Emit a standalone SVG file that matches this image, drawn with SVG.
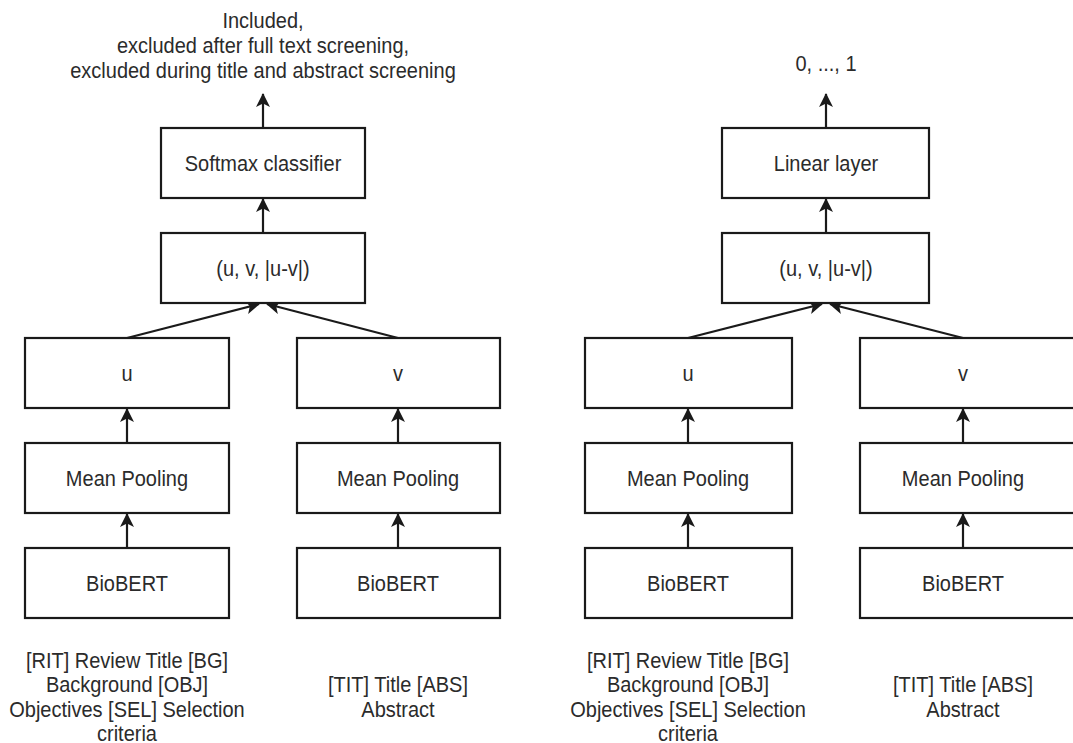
<svg xmlns="http://www.w3.org/2000/svg" width="1073" height="743" viewBox="0 0 1073 743">
  <style>
    .box { fill: #ffffff; stroke: #1a1a1a; stroke-width: 2.2; }
    .lbl { font-family: "Liberation Sans", Arial, sans-serif; font-size: 20px; fill: #2b2b2b; text-anchor: middle; dominant-baseline: central; transform-box: fill-box; transform-origin: center; transform: scaleY(1.12); }
    .edge { stroke: #1a1a1a; stroke-width: 2.2; fill: none; marker-end: url(#arrow); }
  </style>
  <defs>
    <marker id="arrow" markerUnits="userSpaceOnUse" viewBox="0 0 14 14" markerWidth="14" markerHeight="14" refX="13" refY="7" orient="auto">
      <path d="M0,0 L14,7 L0,14 L3.5,7 z" fill="#1a1a1a"/>
    </marker>
  </defs>
  <rect width="1073" height="743" fill="#ffffff"/>

  <!-- connectors -->
  <g id="connectors">
    <!-- left model -->
    <line class="edge" x1="263" y1="128" x2="263" y2="94"/>
    <line class="edge" x1="263" y1="233" x2="263" y2="199"/>
    <line class="edge" x1="127" y1="338" x2="259" y2="304"/>
    <line class="edge" x1="398" y1="338" x2="267" y2="304"/>
    <line class="edge" x1="127" y1="443" x2="127" y2="409"/>
    <line class="edge" x1="127" y1="548" x2="127" y2="514"/>
    <line class="edge" x1="398" y1="443" x2="398" y2="409"/>
    <line class="edge" x1="398" y1="548" x2="398" y2="514"/>
    <!-- right model -->
    <line class="edge" x1="826" y1="128" x2="826" y2="94"/>
    <line class="edge" x1="826" y1="233" x2="826" y2="199"/>
    <line class="edge" x1="688" y1="338" x2="822" y2="304"/>
    <line class="edge" x1="963" y1="338" x2="830" y2="304"/>
    <line class="edge" x1="688" y1="443" x2="688" y2="409"/>
    <line class="edge" x1="688" y1="548" x2="688" y2="514"/>
    <line class="edge" x1="963" y1="443" x2="963" y2="409"/>
    <line class="edge" x1="963" y1="548" x2="963" y2="514"/>
  </g>

  <!-- left model: classification -->
  <g id="out-left">
    <text class="lbl" x="263" y="20">Included,</text>
    <text class="lbl" x="263" y="45">excluded after full text screening,</text>
    <text class="lbl" x="263" y="70">excluded during title and abstract screening</text>
  </g>
  <g id="softmax">
    <rect class="box" x="161" y="128" width="204" height="70"/>
    <text class="lbl" x="263" y="163">Softmax classifier</text>
  </g>
  <g id="concat-left">
    <rect class="box" x="161" y="233" width="204" height="70"/>
    <text class="lbl" x="263" y="268">(u, v, |u-v|)</text>
  </g>
  <g id="u-left">
    <rect class="box" x="25" y="338" width="204" height="70"/>
    <text class="lbl" x="127" y="373">u</text>
  </g>
  <g id="v-left">
    <rect class="box" x="297" y="338" width="203" height="70"/>
    <text class="lbl" x="398" y="373">v</text>
  </g>
  <g id="pool-u-left">
    <rect class="box" x="25" y="443" width="204" height="70"/>
    <text class="lbl" x="127" y="478">Mean Pooling</text>
  </g>
  <g id="pool-v-left">
    <rect class="box" x="297" y="443" width="203" height="70"/>
    <text class="lbl" x="398" y="478">Mean Pooling</text>
  </g>
  <g id="bert-u-left">
    <rect class="box" x="25" y="548" width="204" height="70"/>
    <text class="lbl" x="127" y="583">BioBERT</text>
  </g>
  <g id="bert-v-left">
    <rect class="box" x="297" y="548" width="203" height="70"/>
    <text class="lbl" x="398" y="583">BioBERT</text>
  </g>
  <g id="in-u-left">
    <text class="lbl" x="127" y="660">[RIT] Review Title [BG]</text>
    <text class="lbl" x="127" y="684">Background [OBJ]</text>
    <text class="lbl" x="127" y="709">Objectives [SEL] Selection</text>
    <text class="lbl" x="127" y="733">criteria</text>
  </g>
  <g id="in-v-left">
    <text class="lbl" x="398" y="684">[TIT] Title [ABS]</text>
    <text class="lbl" x="398" y="709">Abstract</text>
  </g>

  <!-- right model: regression -->
  <g id="out-right">
    <text class="lbl" x="826" y="63">0, ..., 1</text>
  </g>
  <g id="linear">
    <rect class="box" x="722" y="128" width="207" height="70"/>
    <text class="lbl" x="826" y="163">Linear layer</text>
  </g>
  <g id="concat-right">
    <rect class="box" x="722" y="233" width="207" height="70"/>
    <text class="lbl" x="826" y="268">(u, v, |u-v|)</text>
  </g>
  <g id="u-right">
    <rect class="box" x="585" y="338" width="207" height="70"/>
    <text class="lbl" x="688" y="373">u</text>
  </g>
  <g id="v-right">
    <rect class="box" x="860" y="338" width="216" height="70"/>
    <text class="lbl" x="963" y="373">v</text>
  </g>
  <g id="pool-u-right">
    <rect class="box" x="585" y="443" width="207" height="70"/>
    <text class="lbl" x="688" y="478">Mean Pooling</text>
  </g>
  <g id="pool-v-right">
    <rect class="box" x="860" y="443" width="216" height="70"/>
    <text class="lbl" x="963" y="478">Mean Pooling</text>
  </g>
  <g id="bert-u-right">
    <rect class="box" x="585" y="548" width="207" height="70"/>
    <text class="lbl" x="688" y="583">BioBERT</text>
  </g>
  <g id="bert-v-right">
    <rect class="box" x="860" y="548" width="216" height="70"/>
    <text class="lbl" x="963" y="583">BioBERT</text>
  </g>
  <g id="in-u-right">
    <text class="lbl" x="688" y="660">[RIT] Review Title [BG]</text>
    <text class="lbl" x="688" y="684">Background [OBJ]</text>
    <text class="lbl" x="688" y="709">Objectives [SEL] Selection</text>
    <text class="lbl" x="688" y="733">criteria</text>
  </g>
  <g id="in-v-right">
    <text class="lbl" x="963" y="684">[TIT] Title [ABS]</text>
    <text class="lbl" x="963" y="709">Abstract</text>
  </g>
</svg>
